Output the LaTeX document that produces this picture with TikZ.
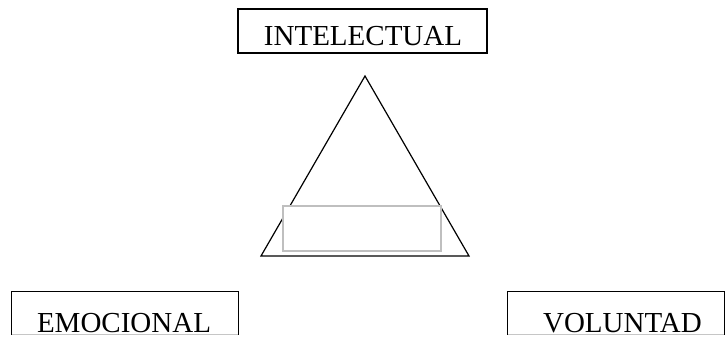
\documentclass[tikz,border=0pt]{standalone}
\usepackage{fontspec}
\setmainfont{Liberation Serif}
\tikzset{
  frame/.style={draw, line width=1.1pt, inner sep=0pt},
  openframe/.style={draw=none, inner sep=0pt},
  word/.style={font=\fontsize{29}{31}\selectfont, anchor=base, inner sep=0pt},
}
\begin{document}
\begin{tikzpicture}[x=1pt, y=-1pt]
\useasboundingbox (0,0) rectangle (726,337);
% top box
\node[frame, minimum width=249pt, minimum height=44pt] (intel) at (362.5,31) {};
\node[word] (intelw) at (363,46) {INTELECTUAL};
% bottom boxes
\node[openframe, minimum width=226pt, minimum height=42.5pt] (emo) at (125,313.25) {};
\node[openframe, minimum width=216pt, minimum height=42.5pt] (vol) at (616,313.25) {};
\foreach \b in {emo, vol} {
  \draw[line width=1.1pt] (\b.south west) -- (\b.north west) -- (\b.north east) -- (\b.south east);
  \draw[gray!45, line width=0.9pt] (\b.south west) -- (\b.south east);
}
\node[word] (emow) at (124,332) {EMOCIONAL};
\node[word] (volw) at (622.5,332) {VOLUNTAD};
% triangle
\coordinate (apex) at (365,76);
\coordinate (bl) at (261,256);
\coordinate (br) at (469,256);
\draw[line width=1.2pt] (apex) -- (bl) -- (br) -- cycle;
\node[draw=gray!50, line width=1.5pt, fill=white, minimum width=158pt, minimum height=45pt, inner sep=0pt] (inner) at (362,228.5) {};
\end{tikzpicture}
\end{document}
